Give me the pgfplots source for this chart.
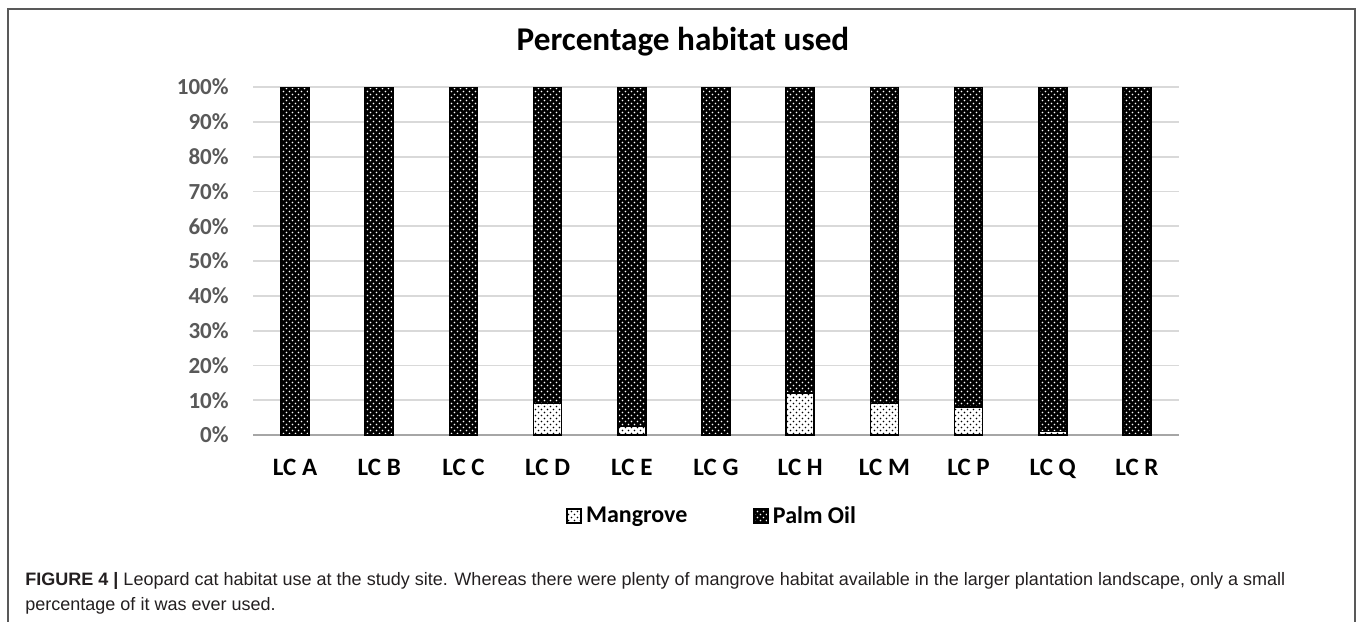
\documentclass[border=0pt]{standalone}
\usepackage{fontspec}
\setmainfont{Carlito}
\newfontfamily\capfont{Liberation Sans}
\usepackage{graphicx}
\usepackage{pgfplots}
\pgfplotsset{compat=1.18}
\usetikzlibrary{patterns}

\pgfdeclarepatternformonly{xdots}{\pgfqpoint{-0.5pt}{-0.5pt}}{\pgfqpoint{3.5pt}{3.5pt}}{\pgfqpoint{3pt}{3pt}}{%
  \pgfpathcircle{\pgfqpoint{0.75pt}{0.75pt}}{0.4pt}%
  \pgfpathcircle{\pgfqpoint{2.25pt}{2.25pt}}{0.4pt}%
  \pgfusepath{fill}}

\definecolor{tickgray}{HTML}{595959}
\definecolor{gridgray}{HTML}{D9D9D9}
\definecolor{capcol}{HTML}{231F20}

\pgfplotstableread{
x mangrove palm
0 0    100
1 0    100
2 0    100
3 9    91
4 2.5  97.5
5 0    100
6 12   88
7 9    91
8 8    92
9 1    99
10 0   100
}\habitat

\newlength\capw
\newcommand\capone{\textbf{FIGURE 4 |} Leopard cat habitat use at the study site. Whereas there were plenty of mangrove habitat available in the larger plantation landscape, only a small}
\begin{document}
\settowidth{\capw}{\capfont\fontsize{9}{11}\selectfont\capone}%
\pgfmathsetmacro\capfac{630/\capw}%
\begin{tikzpicture}
\useasboundingbox (0,0) rectangle (679pt,-310.5pt);
\fill[white] (0,0) rectangle (679pt,-310.5pt);
\draw[line width=1pt, black!65] (4pt,-4.5pt) rectangle (677.5pt,-330pt);
\node[anchor=base, font=\fontsize{16.6}{19}\selectfont\bfseries] at (341.5pt,-25pt) {Percentage habitat used};
\begin{axis}[
  at={(126.5pt,-217.5pt)}, anchor=south west,
  scale only axis, width=463pt, height=174pt,
  ybar stacked, bar width=14pt,
  xmin=-0.5, xmax=10.5, ymin=0, ymax=100,
  xtick={0,...,10},
  xticklabels={LC A,LC B,LC C,LC D,LC E,LC G,LC H,LC M,LC P,LC Q,LC R},
  ytick={0,10,...,100},
  yticklabel={\pgfmathprintnumber{\tick}\%},
  /pgf/number format/assume math mode=true,
  axis line style={draw=none},
  major tick length=0pt,
  ymajorgrids, grid style={gridgray, line width=0.9pt},
  extra y ticks={0}, extra y tick labels={},
  extra y tick style={grid style={black!35, line width=0.9pt}},
  yticklabel style={anchor=east, xshift=-12pt, inner sep=0pt, text=tickgray, font=\fontsize{11.5}{13}\selectfont\bfseries},
  xticklabel style={anchor=base, yshift=-20pt, inner sep=0pt, text=black, font=\fontsize{12.5}{14}\selectfont\bfseries},
  legend style={at={(axis description cs:0.497,-0.233)}, anchor=center, draw=none, fill=none,
    legend columns=2, font=\fontsize{12}{14}\selectfont\bfseries,
    /tikz/every even column/.append style={column sep=31pt}},
  legend image code/.code={\draw[#1] (0pt,-3.5pt) rectangle (7pt,3.5pt);},
]
\addplot[fill=white, draw=black, line width=0.8pt, postaction={pattern=xdots, pattern color=black}] table[x=x, y=mangrove] {\habitat};
\addplot[fill=black, draw=black, line width=0.8pt, postaction={pattern=xdots, pattern color=white}] table[x=x, y=palm] {\habitat};
\legend{Mangrove, Palm Oil}
\end{axis}
\node[anchor=base west, inner sep=0pt, text=capcol, font=\capfont\fontsize{9}{11}\selectfont] at (12.5pt,-292.5pt) {\scalebox{\capfac}[1]{\capone}};
\node[anchor=base west, inner sep=0pt, text=capcol, font=\capfont\fontsize{9}{11}\selectfont] at (12.5pt,-305pt) {\scalebox{\capfac}[1]{percentage of it was ever used.}};
\end{tikzpicture}
\end{document}
